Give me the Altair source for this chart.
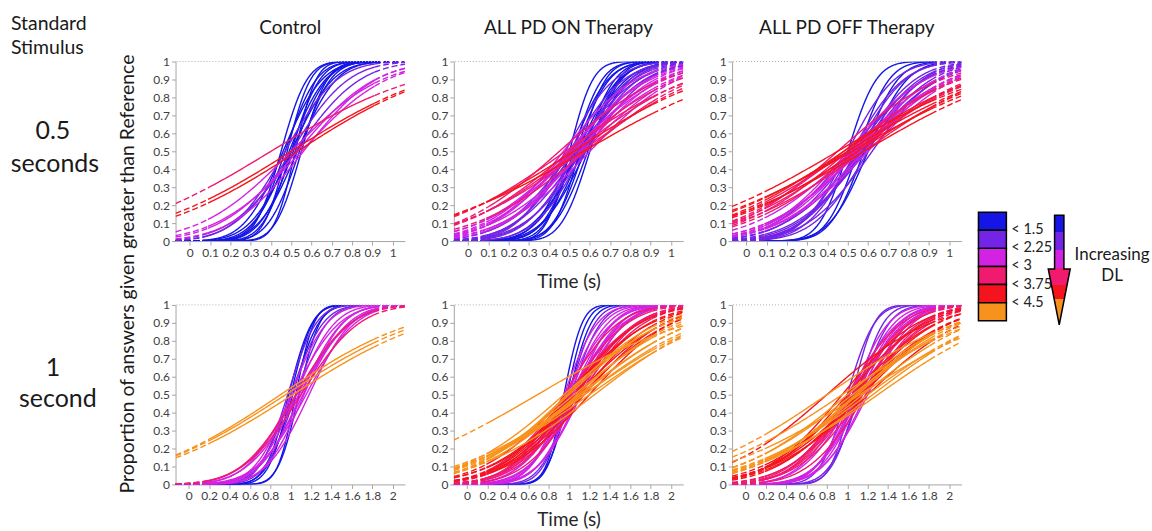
import math
import numpy as np
import pandas as pd
import altair as alt

FONT = "Lato"

# DL colour classes
CLS = ["b", "p", "m", "k", "r", "o"]
PALETTE = ["#1515e6", "#7424e6", "#d222e2", "#f01a6e", "#f5141e", "#f7921c"]
LEGEND_LABELS = ["< 1.5", "< 2.25", "< 3", "< 3.75", "< 4.5"]

COL_TITLES = ["Control", "ALL PD ON Therapy", "ALL PD OFF Therapy"]
YVALS = [0, 0.1, 0.2, 0.3, 0.4, 0.5, 0.6, 0.7, 0.8, 0.9, 1]
XVALS_05 = [0, 0.1, 0.2, 0.3, 0.4, 0.5, 0.6, 0.7, 0.8, 0.9, 1]
XVALS_1 = [0, 0.2, 0.4, 0.6, 0.8, 1, 1.2, 1.4, 1.6, 1.8, 2]

# fitted psychometric curves: PSE (mu), spread (sd), DL class
TL_mu = [0.45, 0.47, 0.48, 0.49, 0.50, 0.50, 0.51, 0.52, 0.53, 0.54, 0.46, 0.55,
         0.47, 0.50, 0.52, 0.53, 0.55, 0.50, 0.56, 0.40, 0.50, 0.53]
TL_sd = [0.10, 0.12, 0.09, 0.14, 0.11, 0.16, 0.13, 0.08, 0.15, 0.12, 0.15, 0.10,
         0.20, 0.22, 0.25, 0.30, 0.33, 0.35, 0.28, 0.58, 0.56, 0.55]
TL_c = "bbbbbbbbbbbbpppmmmmkrr"

TM_mu = [0.50, 0.52, 0.53, 0.55, 0.56, 0.57, 0.58, 0.54, 0.51, 0.59, 0.55, 0.60,
         0.48, 0.50, 0.52, 0.54, 0.55, 0.56, 0.58, 0.51, 0.53, 0.57,
         0.47, 0.50, 0.52, 0.55, 0.57, 0.53, 0.49, 0.56, 0.60, 0.51,
         0.45, 0.50, 0.53, 0.56, 0.48, 0.58, 0.57, 0.52]
TM_sd = [0.09, 0.11, 0.13, 0.10, 0.15, 0.12, 0.17, 0.16, 0.14, 0.13, 0.18, 0.11,
         0.19, 0.21, 0.23, 0.20, 0.25, 0.22, 0.24, 0.26, 0.27, 0.19,
         0.28, 0.30, 0.33, 0.29, 0.35, 0.37, 0.32, 0.31, 0.34, 0.36,
         0.40, 0.42, 0.45, 0.48, 0.50, 0.43, 0.61, 0.55]
TM_c = "bbbbbbbbbbbbppppppppppmmmmmmmmmmkkkkkkrr"

TR_mu = [0.50, 0.55, 0.58, 0.60,
         0.50, 0.52, 0.55, 0.57, 0.58, 0.60, 0.53, 0.56, 0.62, 0.54, 0.59, 0.51, 0.57,
         0.50, 0.53, 0.55, 0.58, 0.52, 0.56, 0.60, 0.54,
         0.45, 0.48, 0.50, 0.53, 0.55, 0.58, 0.50,
         0.45, 0.50, 0.52, 0.55, 0.48, 0.58]
TR_sd = [0.11, 0.12, 0.13, 0.15,
         0.18, 0.20, 0.22, 0.24, 0.26, 0.21, 0.27, 0.23, 0.25, 0.19, 0.28, 0.29, 0.30,
         0.30, 0.32, 0.35, 0.33, 0.38, 0.36, 0.34, 0.31,
         0.40, 0.45, 0.42, 0.48, 0.44, 0.50, 0.52,
         0.60, 0.58, 0.62, 0.55, 0.52, 0.60]
TR_c = "bbbbpppppppppppppmmmmmmmmkkkkkkkrrrrrr"

BL_mu = [1.05, 1.00, 0.98, 1.02, 1.08,
         0.97, 1.00, 1.05,
         1.00, 1.05, 1.10, 1.12, 1.15, 1.08, 1.02, 1.18, 1.06, 1.13,
         1.05, 1.10,
         0.90, 0.95, 1.02]
BL_sd = [0.14, 0.17, 0.18, 0.20, 0.16,
         0.22, 0.25, 0.24,
         0.28, 0.30, 0.32, 0.35, 0.38, 0.40, 0.36, 0.33, 0.42, 0.30,
         0.42, 0.45,
         1.05, 1.08, 1.10]
BL_c = "bbbbbpppmmmmmmmmmmkkooo"

BM_mu = [0.95, 0.98, 1.00,
         1.00, 1.02,
         0.95, 0.98, 1.00, 1.02, 1.05, 1.08, 1.10, 0.97, 1.03, 1.12, 1.06, 1.00,
         0.95, 1.00, 1.05, 1.10, 1.02, 1.08, 0.98, 1.12,
         1.00, 1.05, 1.10, 1.15, 0.98, 1.08, 1.12, 1.20,
         0.69, 0.95, 1.00, 1.05, 1.10, 1.15, 1.20, 0.98, 1.08, 1.12, 1.25, 1.15]
BM_sd = [0.14, 0.15, 0.17,
         0.20, 0.23,
         0.26, 0.28, 0.30, 0.33, 0.35, 0.38, 0.32, 0.36, 0.40, 0.34, 0.29, 0.42,
         0.42, 0.45, 0.48, 0.50, 0.52, 0.46, 0.55, 0.44,
         0.55, 0.58, 0.60, 0.62, 0.65, 0.68, 0.70, 0.64,
         1.20, 0.80, 0.75, 0.85, 0.90, 0.95, 1.00, 0.72, 0.78, 0.88, 0.92, 1.00]
BM_c = "bbbppmmmmmmmmmmmmkkkkkkkkrrrrrrrroooooooooooo"

BR_mu = [1.05, 1.10, 1.00, 1.12,
         1.05, 1.08, 1.10, 1.12, 1.15, 1.02, 1.18, 1.07, 1.13, 1.20,
         1.00, 1.05, 1.10, 1.15, 1.08, 1.12, 1.02, 1.18,
         0.95, 1.00, 1.05, 1.10, 1.15, 1.08, 1.12, 0.80, 1.20,
         0.80, 1.00, 1.05, 1.10, 1.15, 1.20, 1.30, 0.95, 1.08, 1.25, 1.12]
BR_sd = [0.17, 0.20, 0.21, 0.23,
         0.28, 0.30, 0.32, 0.34, 0.36, 0.38, 0.33, 0.40, 0.31, 0.35,
         0.42, 0.45, 0.48, 0.50, 0.52, 0.55, 0.46, 0.44,
         0.58, 0.60, 0.65, 0.62, 0.68, 0.72, 0.70, 0.80, 0.75,
         1.03, 0.85, 0.90, 0.80, 0.88, 0.95, 1.00, 1.05, 0.78, 0.92, 1.10]
BR_c = "ppppmmmmmmmmmmkkkkkkkkrrrrrrrrrooooooooooo"

# x extents: [axis start, solid start, solid end, axis end]
EXT_05 = [-0.07, 0.09, 0.91, 1.06]
EXT_1 = [-0.13, 0.19, 1.81, 2.12]


def build(mus, sds, cls, ext):
    xmin, xa, xb, xmax = ext
    rows = []
    for i, (m, s, c) in enumerate(zip(mus, sds, cls)):
        for seg, (a, b, n) in enumerate(((xmin, xa, 14), (xa, xb, 80), (xb, xmax, 14))):
            for x in np.linspace(a, b, n):
                y = 0.5 * (1 + math.erf((x - m) / (s * math.sqrt(2))))
                rows.append({"curve": f"c{i}s{seg}",
                             "style": "solid" if seg == 1 else "dash",
                             "x": float(x), "y": y, "cls": c})
    return pd.DataFrame(rows)


def panel(df, ext, xvals, title=None, xtitle=None, tpad=15):
    x = alt.X("x:Q", scale=alt.Scale(domain=[ext[0], ext[3]], nice=False, zero=False),
              axis=alt.Axis(values=xvals, format=".1~f", title=xtitle, labelFlush=False,
                            labelOverlap=False, titlePadding=tpad))
    y = alt.Y("y:Q", scale=alt.Scale(domain=[0, 1], nice=False),
              axis=alt.Axis(values=YVALS, format=".1~f", title=None, labelFlush=False,
                            labelOverlap=False))
    lines = alt.Chart(df).mark_line(strokeWidth=1.4, clip=True).encode(
        x=x, y=y,
        color=alt.Color("cls:N", scale=alt.Scale(domain=CLS, range=PALETTE), legend=None),
        strokeDash=alt.StrokeDash("style:N",
                                  scale=alt.Scale(domain=["solid", "dash"], range=[[1, 0], [6, 3]]),
                                  legend=None),
        detail="curve:N",
    )
    top = alt.Chart(pd.DataFrame({"y": [1.0]})).mark_rule(
        color="#b0b0b0", strokeDash=[1, 2], strokeWidth=1).encode(y=y)
    ch = alt.layer(lines, top).properties(width=230, height=180)
    if title:
        ch = ch.properties(title=alt.TitleParams(title, offset=18))
    return ch


p11 = panel(build(TL_mu, TL_sd, TL_c, EXT_05), EXT_05, XVALS_05, COL_TITLES[0])
p12 = panel(build(TM_mu, TM_sd, TM_c, EXT_05), EXT_05, XVALS_05, COL_TITLES[1], "Time (s)")
p13 = panel(build(TR_mu, TR_sd, TR_c, EXT_05), EXT_05, XVALS_05, COL_TITLES[2])
p21 = panel(build(BL_mu, BL_sd, BL_c, EXT_1), EXT_1, XVALS_1)
p22 = panel(build(BM_mu, BM_sd, BM_c, EXT_1), EXT_1, XVALS_1, None, "Time (s)", 9)
p23 = panel(build(BR_mu, BR_sd, BR_c, EXT_1), EXT_1, XVALS_1)

grid = alt.vconcat(alt.hconcat(p11, p12, p13, spacing=25),
                   alt.hconcat(p21, p22, p23, spacing=25), spacing=7)

H = 420


def txt(t, x, y, size, align="center", angle=0):
    return alt.Chart(pd.DataFrame({"t": [t]})).mark_text(
        font=FONT, fontSize=size, align=align, baseline="middle", angle=angle,
        color="#1a1a1a").encode(text="t:N", x=alt.value(x), y=alt.value(y))


labels = alt.layer(
    txt("Standard", 11, -38, 19.5, "left"),
    txt("Stimulus", 11, -14, 19.5, "left"),
    txt("0.5", 53, 70, 25),
    txt("seconds", 55, 103, 25),
    txt("1", 53, 307, 25),
    txt("second", 58, 338, 25),
    txt("Proportion of answers given greater than Reference", 128, 213, 19.5, "center", 270),
).properties(width=153, height=H)

leg_df = pd.DataFrame({"cls": CLS})
lab_df = pd.DataFrame({"cls": CLS[:5], "lab": LEGEND_LABELS})
yband = alt.Scale(domain=CLS, range=[151, 260], paddingInner=0, paddingOuter=0)
boxes = alt.Chart(leg_df).mark_rect(stroke="black", strokeWidth=1.5).encode(
    y=alt.Y("cls:N", scale=yband, axis=None, sort=CLS),
    x=alt.value(16), x2=alt.value(44),
    color=alt.Color("cls:N", scale=alt.Scale(domain=CLS, range=PALETTE), legend=None),
)
labs = alt.Chart(lab_df).mark_text(align="left", baseline="middle", dy=9, font=FONT,
                                   fontSize=14.5, color="#222222").encode(
    y=alt.Y("cls:N", scale=yband, axis=None, sort=CLS),
    x=alt.value(49), text="lab:N")

ARROW = "M -0.085 -1 L 0.085 -1 L 0.085 -0.02 L 0.2 -0.02 L 0 1 L -0.2 -0.02 L -0.085 -0.02 Z"
stops = []
bands = [(0.0, 0.155, PALETTE[0]), (0.155, 0.32, PALETTE[1]), (0.32, 0.48, PALETTE[2]),
         (0.48, 0.64, PALETTE[3]), (0.64, 0.76, PALETTE[4]), (0.76, 1.0, PALETTE[5])]
for a, b, c in bands:
    stops.append(alt.GradientStop(color=c, offset=a))
    stops.append(alt.GradientStop(color=c, offset=b))
grad = alt.Gradient(gradient="linear", x1=0, y1=0, x2=0, y2=1, stops=stops)
arrow = alt.Chart(pd.DataFrame({"a": [0]})).mark_point(
    shape=ARROW, size=110 ** 2, filled=True, fill=grad, stroke="black", strokeWidth=1.5,
    opacity=1, fillOpacity=1, strokeJoin="miter").encode(x=alt.value(97), y=alt.value(209))

legend = alt.layer(
    boxes, labs, arrow,
    txt("Increasing", 150, 194, 17),
    txt("DL", 150, 215, 17),
).properties(width=190, height=H)

chart = alt.hconcat(labels, grid, legend, spacing=0).properties(
    padding={"left": 0, "top": 13, "right": 0, "bottom": 0}
).configure_view(stroke=None).configure_axis(
    domainColor="#a6a6a6", tickColor="#a6a6a6", labelColor="#404040", labelFont=FONT,
    labelFontSize=12, tickSize=4, grid=False, titleFont=FONT, titleFontSize=19,
    titleFontWeight="normal", titleColor="#262626", labelPadding=2,
).configure_title(font=FONT, fontSize=19, fontWeight="normal", color="#1a1a1a", anchor="middle")

chart.save("out.html", embed_options={"renderer": "svg", "actions": False})
